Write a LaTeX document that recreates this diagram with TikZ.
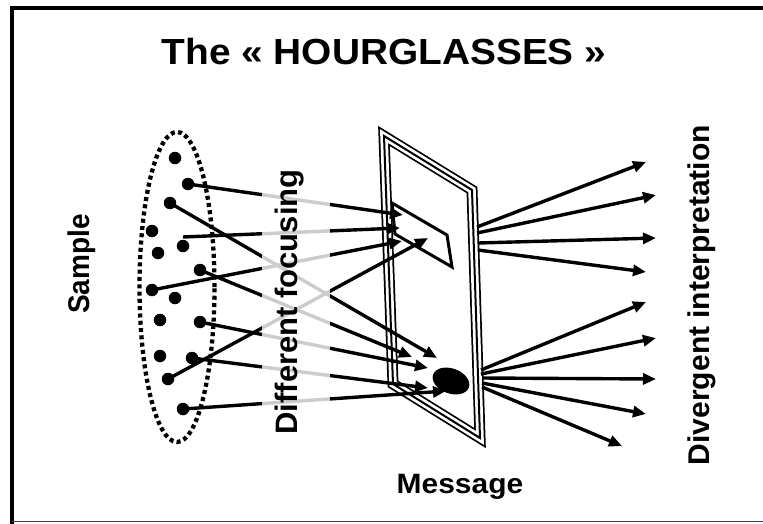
\documentclass[tikz,border=0pt]{standalone}
\usepackage{fontspec}
\setmainfont{Liberation Sans}
\usetikzlibrary{arrows.meta,shapes.geometric}
\begin{document}
\begin{tikzpicture}[x=1pt,y=-1pt,
  lbl/.style={font=\bfseries\fontsize{28}{30}\selectfont, inner sep=0pt},
  ttl/.style={font=\bfseries\fontsize{36.3}{40}\selectfont, inner sep=0pt},
  ray/.style={line width=3.4pt, -{Triangle[length=13pt,width=11pt]}},
  dotn/.style={circle, fill=black, minimum size=12.5pt, inner sep=0pt},
  boardline/.style={draw=black, line width=11pt, line join=miter,
     postaction={draw=white, line width=7.5pt},
     postaction={draw=black, line width=2pt}},
  veil/.style={fill=white, fill opacity=0.8, draw=none}]
\useasboundingbox (0,0) rectangle (763,523);
\fill[white] (0,0) rectangle (763,523);
% frame of the slide
\draw[line width=4pt] (12,525) -- (12,8) -- (770,8);
\draw[line width=1.2pt, black!75] (12,521.5) -- (770,521.5);
% title
\node[ttl, anchor=base, xscale=1.07] (title) at (384,64) {The « HOURGLASSES »};
% sample ellipse
\node[draw, ellipse, line width=4.3pt, dash pattern=on 4pt off 3.3pt,
      minimum width=75pt, minimum height=310pt, inner sep=0pt] (sample) at (177,287) {};
% dots
\foreach \n/\p in {1/{(175,158)},2/{(188,184)},3/{(170,203)},4/{(152,231)},5/{(183,246)},
  6/{(158,253)},7/{(200,270)},8/{(152,290)},9/{(175,298)},10/{(160,320)},11/{(200,322)},
  12/{(160,356)},13/{(192,358)},14/{(168,379)},15/{(183,409)}}
  \node[dotn] (d\n) at \p {};
% the board
\filldraw[boardline, fill=white] (384,136) coordinate (bTL) -- (472,190) coordinate (bTR)
   -- (480,438) coordinate (bBR) -- (393,384) coordinate (bBL) -- cycle;
\filldraw[line width=3pt, fill=white, line join=miter] (392,203) coordinate (w1) -- (447,235) coordinate (w2)
   -- (452,267) coordinate (w3) -- (395,234) coordinate (w4) -- cycle;
\node[ellipse, fill=black, minimum width=38pt, minimum height=25pt, inner sep=0pt, rotate=-20] (spot) at (451,381) {};
% target tips
\coordinate (tA) at (403,215);
\coordinate (tC) at (400,228);
\coordinate (tE) at (402,241);
\coordinate (tX) at (428,238);
\coordinate (tD) at (412,357);
\coordinate (tB) at (437,358);
\coordinate (tF) at (428,368);
\coordinate (tG) at (428,388);
\coordinate (tH) at (446,391);
\coordinate (sC) at (183,237);
% focusing rays
\draw[ray] (d2.center) -- (tA);
\draw[ray] (sC) -- (tC);
\draw[ray] (d8.center) -- (tE);
\draw[ray] (d14.center) -- (tX);
\draw[ray] (d3.center) -- (tB);
\draw[ray] (d7.center) -- (tD);
\draw[ray] (d11.center) -- (tF);
\draw[ray] (d13.center) -- (tG);
\draw[ray] (d15.center) -- (tH);
% veil and label
\fill[veil] (262,150) rectangle (330,440);
\node[lbl, rotate=90, font=\bfseries\fontsize{31}{33}\selectfont] (focus) at (290,302) {Different focusing};
% divergent rays
\coordinate (o1) at (477,227); \coordinate (o2) at (477,233);
\coordinate (o3) at (478,243); \coordinate (o4) at (478,250);
\coordinate (o5) at (481,370); \coordinate (o6) at (481,374);
\coordinate (o7) at (482,378); \coordinate (o8) at (482,383);
\coordinate (o9) at (482,387);
\coordinate (e1) at (646,162); \coordinate (e2) at (656,195);
\coordinate (e3) at (656,238); \coordinate (e4) at (646,272);
\coordinate (e5) at (646,302); \coordinate (e6) at (656,338);
\coordinate (e7) at (656,379); \coordinate (e8) at (646,414);
\coordinate (e9) at (622,446);
\foreach \i in {1,...,9} \draw[ray] (o\i) -- (e\i);
% labels
\node[lbl, rotate=90, yscale=1.07] (samplelbl) at (82,264) {Sample};
\node[lbl, rotate=90, font=\bfseries\fontsize{30}{32}\selectfont] (divlbl) at (702,295) {Divergent interpretation};
\node[lbl, anchor=base, xscale=1.07] (msg) at (460,493) {Message};
\end{tikzpicture}
\end{document}
